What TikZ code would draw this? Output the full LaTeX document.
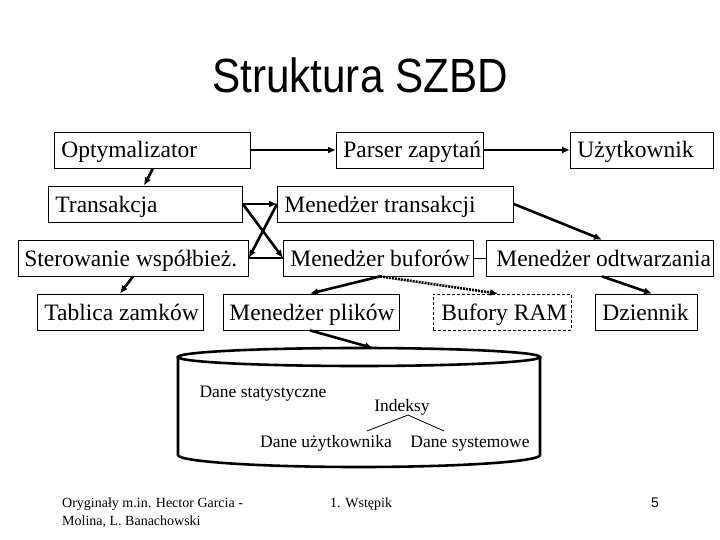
\documentclass[tikz,border=0pt]{standalone}
\usepackage{fontspec}
\setmainfont{Liberation Serif}
\newfontfamily\tytulfont{Liberation Sans}
\usetikzlibrary{positioning,calc,arrows.meta}

\begin{document}
\begin{tikzpicture}[x=1pt, y=-1pt,
  blok/.style={draw, line width=0.8pt, anchor=west, inner xsep=7pt, inner ysep=0pt,
    text height=20pt, text depth=4pt, minimum height=36pt, font=\fontsize{23.5}{28}\selectfont},
  strz/.style={line width=2.6pt, -{Latex[length=8pt,width=7pt]}},
  kropki/.style={strz, dash pattern=on 2pt off 1pt},
  cienka/.style={line width=0.8pt},
  opis/.style={inner sep=0pt, anchor=base, font=\fontsize{17.5}{21}\selectfont},
  stopka/.style={inner sep=0pt, align=left, font=\fontsize{14}{18}\selectfont}]
  \useasboundingbox (0,0) rectangle (720,540);

  % Tytul
  \node (tytul) at (360,75) {\tytulfont\fontsize{48}{56}\selectfont\scalebox{0.88}[1]{Struktura SZBD}};

  % Moduly SZBD
  \node[blok] (opt) at (54,150) {\makebox[182pt][l]{Optymalizator}};
  \node[blok] (parser) at (336,150) {\makebox[133pt][l]{Parser zapytań}};
  \node[blok] (uzyt) at (570,150) {\makebox[129pt][l]{Użytkownik}};
  \node[blok] (trans) at (48,204) {\makebox[180pt][l]{Transakcja}};
  \node[blok] (mtrans) at (277,204) {\makebox[222pt][l]{Menedżer transakcji}};
  \node[blok, inner xsep=6pt] (sterow) at (18,258) {\makebox[218pt][l]{Sterowanie współbież.}};
  \node[blok] (mbuf) at (283,258) {\makebox[176pt][l]{Menedżer buforów}};
  \node[blok, inner xsep=10pt] (modtw) at (486,258) {\makebox[207pt][l]{Menedżer odtwarzania}};
  \node[blok] (tabl) at (37,312) {\makebox[152pt][l]{Tablica zamków}};
  \node[blok, inner xsep=6pt] (mplik) at (223,312) {\makebox[164pt][l]{Menedżer plików}};
  \node[blok, inner xsep=8pt, dash pattern=on 3pt off 2pt] (bufram) at (433,312) {\makebox[122pt][l]{Bufory RAM}};
  \node[blok] (dzien) at (595,312) {\makebox[88pt][l]{Dziennik}};

  % Polaczenia
  \draw[strz] (opt) -- (parser);
  \draw[strz] (parser) -- (uzyt);
  \draw[strz] ([xshift=99pt]opt.south west) -- ([xshift=96pt]trans.north west);
  \draw[strz] (trans.east) -- (mtrans.west);
  \draw[strz] (trans.east) -- (mbuf.west);
  \draw[strz] (mtrans.west) -- (sterow.east);
  \draw[line width=2.6pt] (sterow.east) -- (mbuf.west);
  \draw[strz] (mtrans.east) -- ([xshift=116pt]modtw.north west);
  \draw[cienka] (mbuf) -- (modtw);
  \draw[strz] ([xshift=115pt]sterow.south west) -- ([xshift=83pt]tabl.north west);
  \draw[strz] ([xshift=97pt]mbuf.south west) -- ([xshift=87pt]mplik.north west);
  \draw[kropki] ([xshift=97pt]mbuf.south west) -- ([xshift=65pt]bufram.north west);
  \draw[strz] ([xshift=116pt]modtw.south west) -- ([xshift=57pt]dzien.north west);

  % Baza danych (walec)
  \draw[line width=2.6pt] (359,357) ellipse [x radius=181, y radius=9];
  \draw[line width=2.6pt] (178,357) -- (178,455) arc [start angle=180, end angle=0, x radius=181, y radius=12] -- (540,357);
  \coordinate (dbgora) at (373,348);
  \draw[strz] ([xshift=87pt]mplik.south west) -- (dbgora);

  \node[opis] (stat) at (263,397) {Dane statystyczne};
  \node[opis] (ind) at (402,411) {Indeksy};
  \node[opis] (uzdane) at (326,447) {Dane użytkownika};
  \node[opis] (sysdane) at (470,447) {Dane systemowe};
  \draw[cienka] ([xshift=6pt, yshift=-4pt]ind.base) -- ([xshift=41pt, yshift=16pt]uzdane.base);
  \draw[cienka] ([xshift=6pt, yshift=-4pt]ind.base) -- ([xshift=-26pt, yshift=16pt]sysdane.base);

  % Stopka
  \node[stopka, anchor=north west] (autor) at (62,498) {Oryginały m.in. Hector Garcia -\\Molina, L. Banachowski};
  \node[stopka, anchor=north west] (rozdz) at (330,498) {1. Wstępik};
  \node[stopka, anchor=north west, font=\tytulfont\fontsize{14}{18}\selectfont] (nr) at (651,498) {5};
\end{tikzpicture}
\end{document}
